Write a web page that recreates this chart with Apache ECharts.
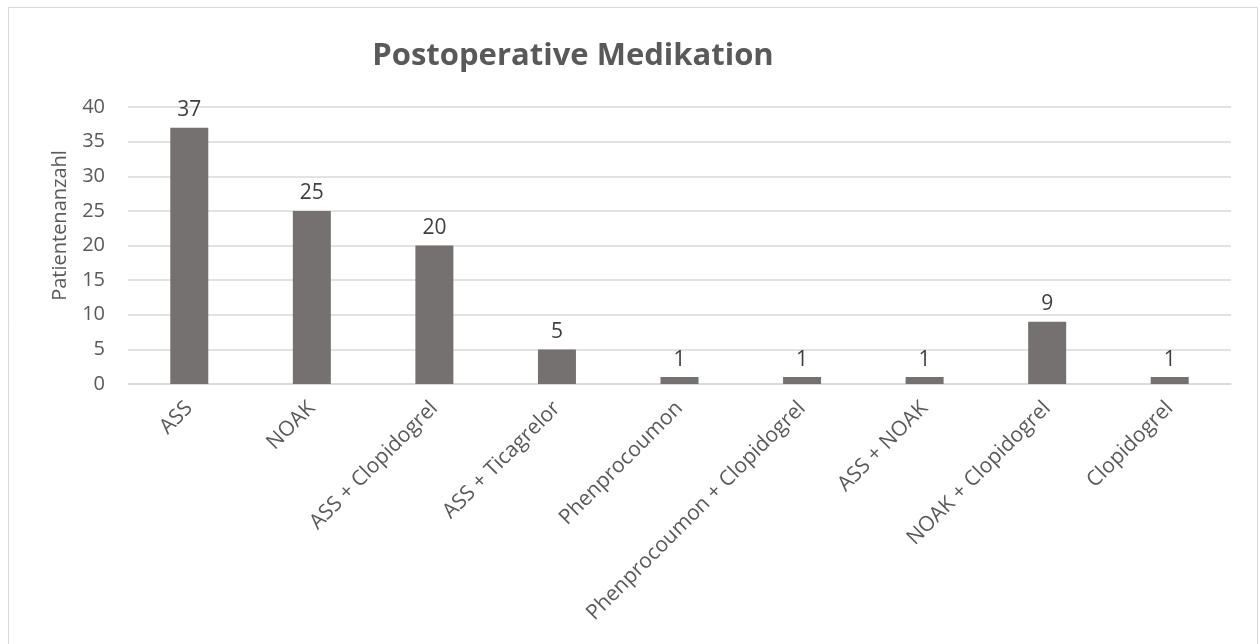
<!DOCTYPE html>
<html><head><meta charset="utf-8">
<script src="https://cdn.jsdelivr.net/npm/echarts@6/dist/echarts.min.js"></script>
<style>html,body{margin:0;padding:0;background:#fff}#c{width:1260px;height:644px}</style>
</head><body><div id="c"></div>
<script>
const categories = ['ASS','NOAK','ASS + Clopidogrel','ASS + Ticagrelor','Phenprocoumon','Phenprocoumon + Clopidogrel','ASS + NOAK','NOAK + Clopidogrel','Clopidogrel'];
const values = [37,25,20,5,1,1,1,9,1];
const yTicks = {min:0,max:40,interval:5};
const font = 'Open Sans';
const chart = echarts.init(document.getElementById('c'));
chart.setOption({
  animation:false,
  textStyle:{fontFamily:font},
  graphic:[{type:'rect',shape:{x:8.5,y:7.5,width:1249,height:640},style:{fill:'none',stroke:'#d9d9d9',lineWidth:1}}],
  title:{text:'Postoperative Medikation',left:568,top:36,textAlign:'center',textStyle:{fontFamily:font,fontSize:31,fontWeight:'bold',color:'#595959'}},
  grid:{left:128,right:29,top:107,bottom:260,containLabel:false},
  xAxis:{type:'category',data:categories,
    axisLine:{lineStyle:{color:'#d9d9d9',width:1.5}},axisTick:{show:false},
    axisLabel:{rotate:45,color:'#595959',fontSize:21,fontFamily:font,margin:21,interval:0,padding:[0,0,0,0]}},
  yAxis:{type:'value',min:yTicks.min,max:yTicks.max,interval:yTicks.interval,
    name:'Patientenanzahl',nameLocation:'middle',nameGap:58,nameRotate:90,
    nameTextStyle:{color:'#595959',fontSize:20,fontFamily:font,padding:[0,0,0,40]},
    axisLine:{show:false},axisTick:{show:false},
    axisLabel:{color:'#595959',fontSize:20,fontFamily:font,margin:23},
    splitLine:{lineStyle:{color:'#d9d9d9',width:1.5}}},
  series:[{type:'bar',data:values,barWidth:38,
    itemStyle:{color:'#767171'},
    label:{show:true,position:'top',distance:7,color:'#404040',fontSize:21,fontFamily:font}}]
});
</script></body></html>
